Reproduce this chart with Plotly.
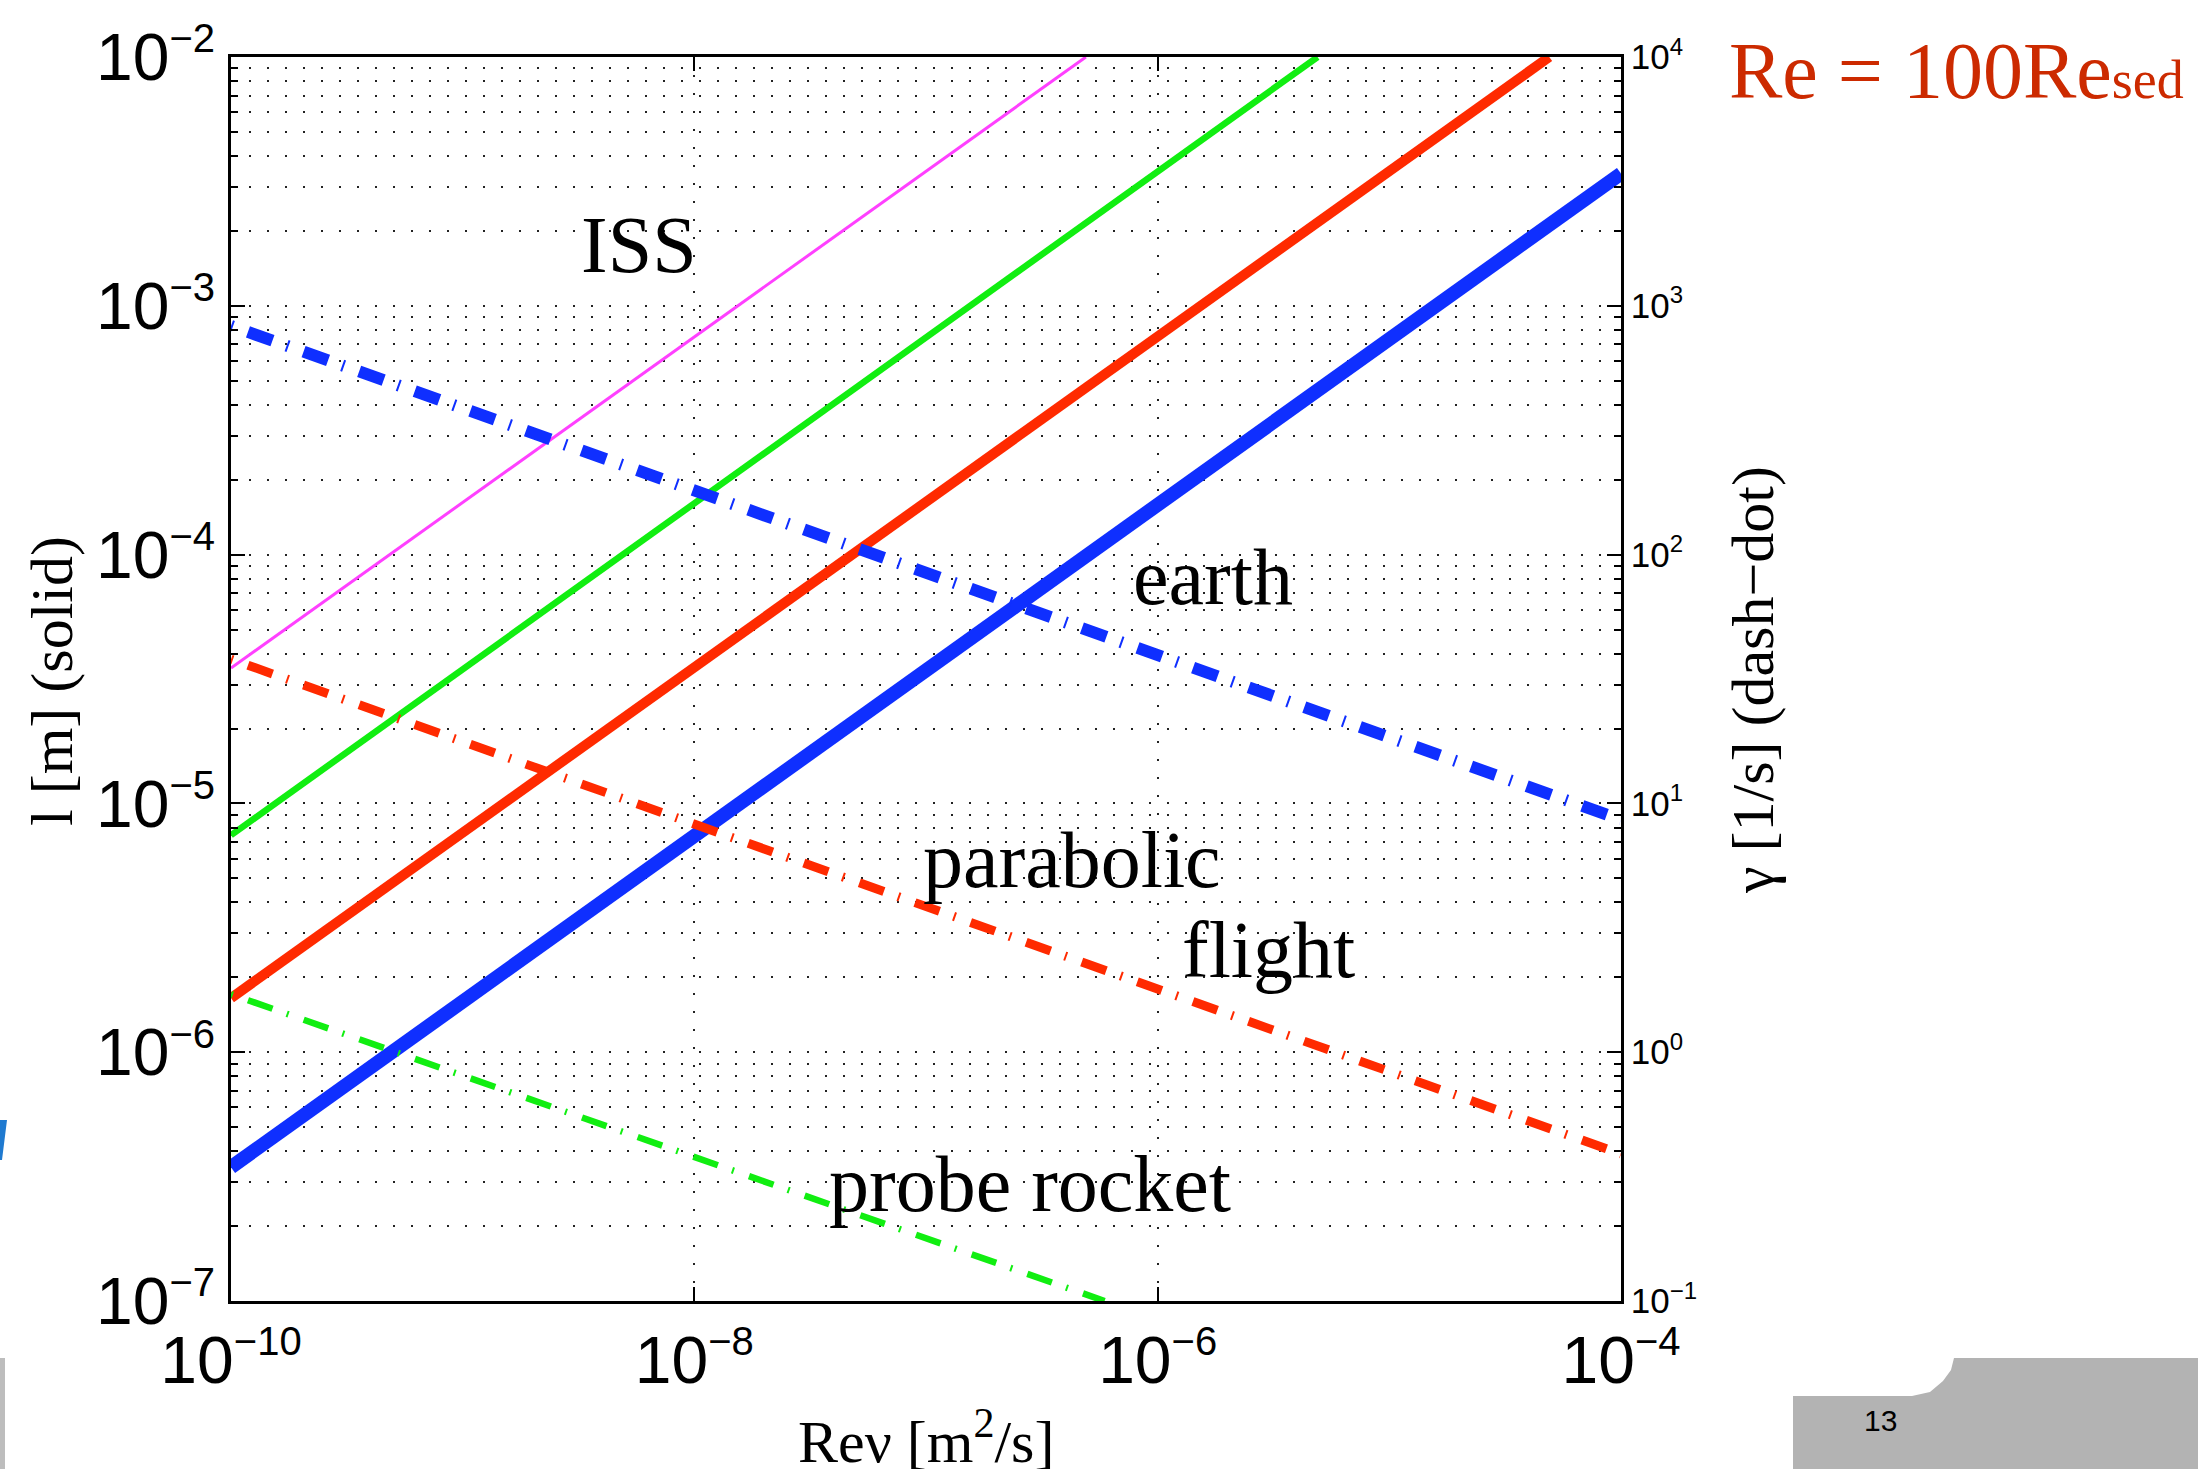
import plotly.graph_objects as go

# Re*nu [m^2/s] end points of each power-law line, and the length scale l [m] (left axis)
earth_rev = [1e-10, 1e-4]
earth_l = [3.45e-7, 3.4e-3]
parabolic_rev = [1e-10, 4.9e-5]
parabolic_l = [1.65e-6, 1e-2]
rocket_rev = [1e-10, 4.9e-6]
rocket_l = [7.45e-6, 1e-2]
iss_rev = [1e-10, 4.9e-7]
iss_l = [3.5e-5, 1e-2]

# shear rate gamma [1/s] (right axis)
earth_gamma_rev = [1e-10, 1e-4]
earth_gamma = [830, 8.6]
parabolic_gamma_rev = [1e-10, 1e-4]
parabolic_gamma = [38, 0.39]
rocket_gamma_rev = [1e-10, 5.9e-7]
rocket_gamma = [1.71, 0.1]

# decade exponents shown on each axis
rev_exponents = [-10, -8, -6, -4]
l_exponents = [-7, -6, -5, -4, -3, -2]
gamma_exponents = [-1, 0, 1, 2, 3, 4]

# regime labels placed at (log10 Re*nu, log10 l)
label_text = ["ISS", "earth", "parabolic", "flight", "probe rocket"]
label_logx = [-8.24, -5.76, -6.37, -5.52, -6.55]
label_logy = [-2.755, -4.09, -5.228, -5.59, -6.528]

W, H = 2198, 1469
ML, MR, MT, MB = 231, 577, 57, 168
PW, PH = W - ML - MR, H - MT - MB

BLUE = "#0f2fff"
RED = "#ff2a00"
GREEN = "#11ee11"
MAGENTA = "#ff40ff"
DASHDOT = "2px,16px,26px,15px"
SERIF = "Liberation Serif"
SANS = "Liberation Sans, Arial, sans-serif"


def px(x):
    return (x - ML) / PW


def py(y):
    return (H - MB - y) / PH


def power_label(e, sup_px):
    s = str(e).replace("-", "−")
    return f'10<sup><span style="font-size:{sup_px}px">{s}</span></sup>'


def decade_ticks(exps, sup_px):
    vals = [10.0 ** e for e in exps]
    text = [power_label(e, sup_px) for e in exps]
    minor = [m * 10.0 ** e for e in exps[:-1] for m in range(2, 10)]
    return vals, text, minor


fig = go.Figure()

solid = [
    (iss_rev, iss_l, MAGENTA, 3),
    (rocket_rev, rocket_l, GREEN, 6.5),
    (parabolic_rev, parabolic_l, RED, 10),
    (earth_rev, earth_l, BLUE, 14),
]
for xs, ys, col, w in solid:
    fig.add_trace(go.Scatter(x=xs, y=ys, mode="lines", yaxis="y",
                             line=dict(color=col, width=w),
                             showlegend=False, hoverinfo="skip"))

dashed = [
    (rocket_gamma_rev, rocket_gamma, GREEN, 6.5),
    (parabolic_gamma_rev, parabolic_gamma, RED, 9),
    (earth_gamma_rev, earth_gamma, BLUE, 12),
]
for xs, ys, col, w in dashed:
    fig.add_trace(go.Scatter(x=xs, y=ys, mode="lines", yaxis="y2",
                             line=dict(color=col, width=w, dash=DASHDOT),
                             showlegend=False, hoverinfo="skip"))

grid = dict(gridcolor="#222222", gridwidth=1.5, griddash="2px,16px")
x_vals, x_text, _ = decade_ticks(rev_exponents, 40)
l_vals, l_text, l_minor = decade_ticks(l_exponents, 40)
g_vals, g_text, g_minor = decade_ticks(gamma_exponents, 24)

fig.update_layout(
    width=W, height=H,
    margin=dict(l=ML, r=MR, t=MT, b=MB, pad=0),
    paper_bgcolor="white", plot_bgcolor="white",
    xaxis=dict(type="log", range=[-10, -4], tickmode="array",
               tickvals=x_vals, ticktext=x_text,
               ticks="inside", ticklen=14, tickwidth=2, tickcolor="black",
               showline=True, linewidth=2.5, linecolor="black", mirror="ticks",
               showgrid=True, **grid,
               tickfont=dict(family=SANS, size=66, color="black")),
    yaxis=dict(type="log", range=[-7, -2], tickmode="array",
               tickvals=l_vals, ticktext=l_text,
               ticks="inside", ticklen=14, tickwidth=2, tickcolor="black",
               showline=True, linewidth=2.5, linecolor="black", mirror=True,
               showgrid=True, **grid,
               minor=dict(tickmode="array", tickvals=l_minor,
                          ticks="inside", ticklen=7, tickwidth=1.5, tickcolor="black",
                          showgrid=True, **grid),
               tickfont=dict(family=SANS, size=66, color="black")),
    yaxis2=dict(type="log", range=[-1, 4], overlaying="y", side="right",
                tickmode="array", tickvals=g_vals, ticktext=g_text,
                ticks="inside", ticklen=14, tickwidth=2, tickcolor="black",
                showline=True, linewidth=2.5, linecolor="black",
                showgrid=False,
                minor=dict(tickmode="array", tickvals=g_minor,
                           ticks="inside", ticklen=7, tickwidth=1.5, tickcolor="black",
                           showgrid=False),
                tickfont=dict(family=SANS, size=35, color="black")),
)

for t, lx, ly in zip(label_text, label_logx, label_logy):
    fig.add_annotation(x=lx, y=ly, xref="x", yref="y", text=t, showarrow=False,
                       xanchor="center", yanchor="middle",
                       font=dict(family=SERIF, size=80, color="black"))

# axis titles
fig.add_annotation(x=px(52), y=py(681), xref="paper", yref="paper",
                   xanchor="center", yanchor="middle",
                   text="l [m] (solid)", textangle=-90, showarrow=False,
                   font=dict(family=SERIF, size=60, color="black"))
fig.add_annotation(x=px(1753), y=py(680), xref="paper", yref="paper",
                   xanchor="center", yanchor="middle",
                   text="γ [1/s] (dash−dot)", textangle=-90, showarrow=False,
                   font=dict(family=SERIF, size=60, color="black"))
fig.add_annotation(x=px(926), y=py(1477), xref="paper", yref="paper",
                   xanchor="center", yanchor="bottom",
                   text="Reν [m<sup>2</sup>/s]", showarrow=False,
                   font=dict(family=SERIF, size=60, color="black"))

fig.add_annotation(x=px(1727), y=py(71), xref="paper", yref="paper",
                   xanchor="left", yanchor="middle",
                   text='Re = 100Re<span style="font-size:54px">sed</span>',
                   showarrow=False, font=dict(family=SERIF, size=80, color="#cc2a00"))

# slide footer: page number tab, left rule and logo fragment
def path(points):
    return "M " + " L ".join(f"{px(a):.5f},{py(b):.5f}" for a, b in points) + " Z"

tab = [(1793, 1396), (1912, 1396), (1930, 1392), (1943, 1381), (1951, 1370),
       (1954, 1358), (2200, 1358), (2200, 1470), (1793, 1470)]
fig.add_shape(type="path", xref="paper", yref="paper", path=path(tab),
              fillcolor="#b3b3b3", line=dict(width=0), layer="below")
fig.add_shape(type="path", xref="paper", yref="paper",
              path=path([(0, 1358), (5, 1358), (5, 1470), (0, 1470)]),
              fillcolor="#bdbdbd", line=dict(width=0), layer="below")
fig.add_shape(type="path", xref="paper", yref="paper",
              path=path([(0, 1120), (7, 1120), (2, 1160), (0, 1160)]),
              fillcolor="#1f7ad0", line=dict(width=0), layer="below")
fig.add_annotation(x=px(1880), y=py(1420), xref="paper", yref="paper",
                   xanchor="center", yanchor="middle",
                   text="13", showarrow=False,
                   font=dict(family=SANS, size=30, color="black"))

fig.write_html("out.html", config={"displayModeBar": False})
